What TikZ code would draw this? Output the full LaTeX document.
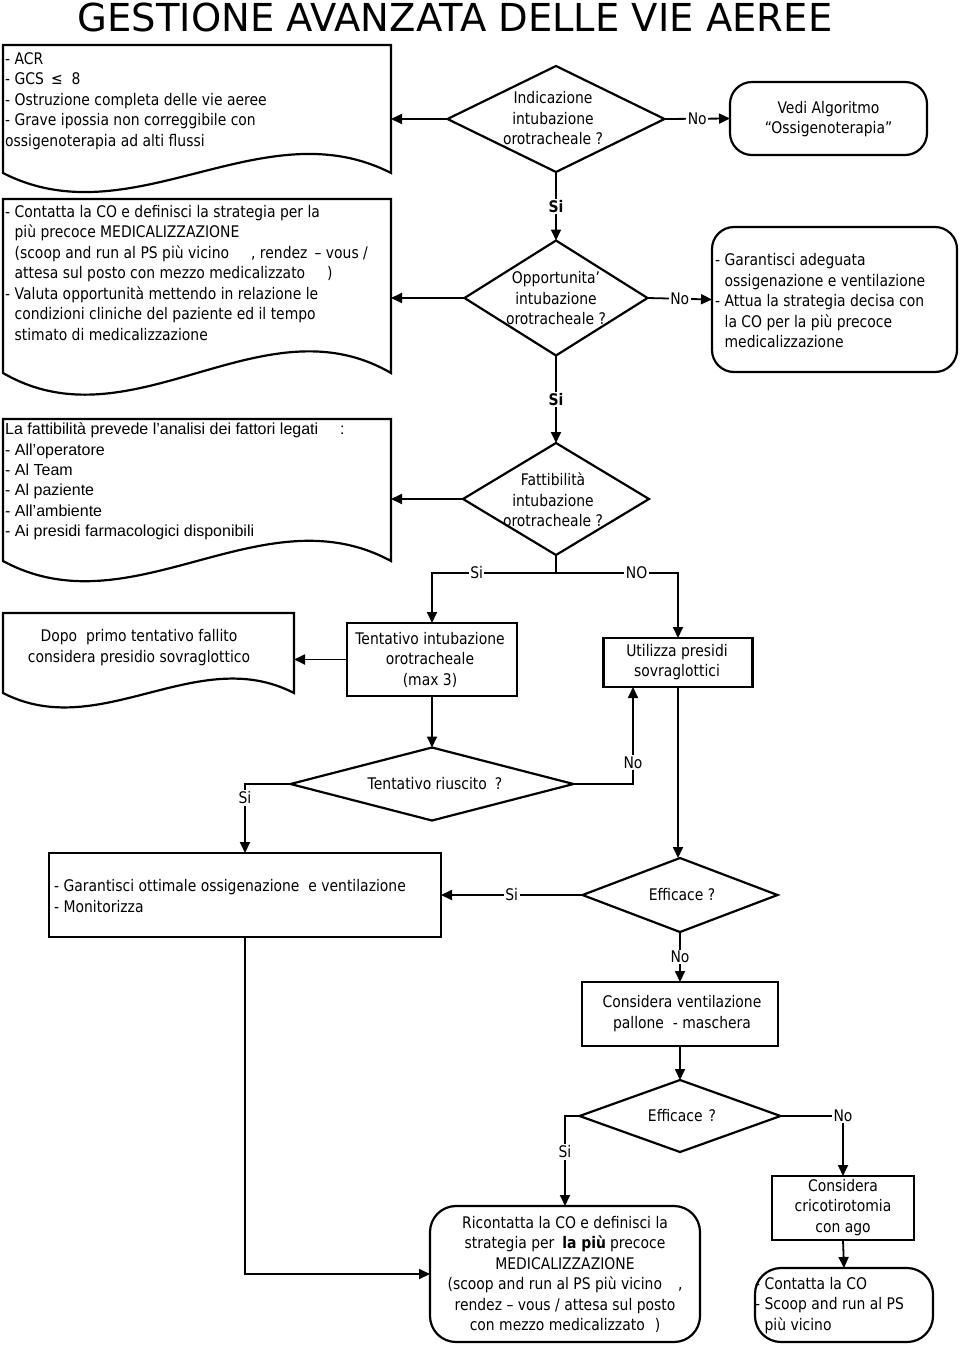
\documentclass[tikz,border=0pt]{standalone}
\usepackage{fontspec}
\setmainfont{DejaVu Sans}[FakeStretch=0.87]
\newfontfamily\arialf{Liberation Sans}
\newfontfamily\titlef{DejaVu Sans}
\usetikzlibrary{shapes.geometric,arrows.meta,calc}
\tikzset{
  ln/.style={line width=1.8pt},
  arr/.style={line width=1.8pt,-{Triangle[length=11pt,width=10pt]}},
  shp/.style={draw,line width=2.2pt,inner sep=0pt,outer sep=0pt},
  rect/.style={shp,rectangle},
  rbox/.style={shp,rectangle,rounded corners=22pt},
  dia/.style={shp,diamond},
  docb/.style={rectangle,inner sep=0pt,outer sep=0pt},
  doc/.style={line width=2.2pt},
  txt/.style={inner sep=0pt,font=\fontsize{16}{20.5}\selectfont},
  ctxt/.style={txt,align=center},
  ltxt/.style={txt,align=left,anchor=west},
  lbl/.style={fill=white,inner sep=1.5pt,font=\fontsize{16}{18}\selectfont},
  lblb/.style={fill=white,inner sep=1.5pt,font=\bfseries\fontsize{16}{18}\selectfont},
}
\begin{document}
\begin{tikzpicture}[x=1pt,y=-1pt]
\fill[white] (0,0) rectangle (960,1346);
\node[anchor=base,font=\titlef\fontsize{38.5}{40}\selectfont,inner sep=0pt] (title) at (455,32) {GESTIONE AVANZATA DELLE VIE AEREE};

% document shaped boxes
\node[docb,minimum width=388pt,minimum height=128pt] (b1) at (197,109) {};
\draw[doc] (b1.south west) -- (b1.north west) -- (b1.north east) -- (b1.south east) .. controls +(-129,-66) and +(129,66) .. (b1.south west) -- cycle;
\node[docb,minimum width=388pt,minimum height=174pt] (b2) at (197,286) {};
\draw[doc] (b2.south west) -- (b2.north west) -- (b2.north east) -- (b2.south east) .. controls +(-129,-75) and +(129,75) .. (b2.south west) -- cycle;
\node[docb,minimum width=388pt,minimum height=142pt] (b3) at (197,490) {};
\draw[doc] (b3.south west) -- (b3.north west) -- (b3.north east) -- (b3.south east) .. controls +(-129,-70) and +(129,70) .. (b3.south west) -- cycle;
\node[docb,minimum width=291pt,minimum height=80pt] (b4) at (148.5,653) {};
\draw[doc] (b4.south west) -- (b4.north west) -- (b4.north east) -- (b4.south east) .. controls +(-97,-50) and +(97,50) .. (b4.south west) -- cycle;

\node[ltxt] (b1t) at (5,101) {- ACR\\- GCS \,≤\ \ 8\\- Ostruzione completa delle vie aeree\\- Grave ipossia non correggibile con\\ossigenoterapia ad alti flussi};
\node[ltxt] (b2t) at (5,273) {- Contatta la CO e definisci la strategia per la\\\hphantom{- }più precoce MEDICALIZZAZIONE\\\hphantom{- }(scoop and run al PS più vicino\hspace{22pt}, rendez \,– vous /\\\hphantom{- }attesa sul posto con mezzo medicalizzato\hspace{22pt})\\- Valuta opportunità mettendo in relazione le\\\hphantom{- }condizioni cliniche del paziente ed il tempo\\\hphantom{- }stimato di medicalizzazione};
\node[ltxt,font=\arialf\fontsize{16}{20.4}\selectfont] (b3t) at (5,481.5) {La fattibilità prevede l’analisi dei fattori legati\hspace{22pt}:\\- All’operatore\\- Al Team\\- Al paziente\\- All’ambiente\\- Ai presidi farmacologici disponibili};
\node[ctxt] (b4t) at (139,647.5) {Dopo\ \ primo tentativo fallito\\considera presidio sovraglottico};

% diamonds
\node[dia,minimum width=217pt,minimum height=106pt] (d1) at (556,119) {};
\node[ctxt] (d1t) at (553,118.5) {Indicazione\\intubazione\\orotracheale ?};
\node[dia,minimum width=183pt,minimum height=115pt] (d2) at (556,298) {};
\node[ctxt] (d2t) at (556,298.5) {Opportunita’\\intubazione\\orotracheale ?};
\node[dia,minimum width=186pt,minimum height=112pt] (d3) at (556,499) {};
\node[ctxt] (d3t) at (553,500) {Fattibilità\\intubazione\\orotracheale ?};
\node[dia,minimum width=283pt,minimum height=73pt] (d4) at (432,784) {};
\node[ctxt] (d4t) at (435,784) {Tentativo riuscito\hspace{8pt}?};
\node[dia,minimum width=195pt,minimum height=74pt] (d5) at (680,895) {};
\node[ctxt] (d5t) at (682,895) {Efficace ?};
\node[dia,minimum width=201pt,minimum height=72pt] (d6) at (680,1116) {};
\node[ctxt] (d6t) at (682,1116) {Efficace\hspace{6pt}?};

% rounded boxes
\node[rbox,minimum width=197pt,minimum height=73pt] (vedi) at (828.5,118.5) {};
\node[ctxt] (vedit) at (828.5,119) {Vedi Algoritmo\\“Ossigenoterapia”};
\node[rbox,minimum width=245pt,minimum height=145pt] (gar) at (834.5,299.5) {};
\node[ltxt] (gart) at (715,301) {- Garantisci adeguata\\\hphantom{- }ossigenazione e ventilazione\\- Attua la strategia decisa con\\\hphantom{- }la CO per la più precoce\\\hphantom{- }medicalizzazione};
\node[rbox,minimum width=270pt,minimum height=136pt,rounded corners=26pt] (box7) at (565,1274) {};
\node[ctxt] (box7t) at (565,1274.5) {Ricontatta la CO e definisci la\\strategia per\hspace{8pt}\textbf{la più}\hspace{4pt}precoce\\MEDICALIZZAZIONE\\(scoop and run al PS più vicino\hspace{16pt},\\rendez – vous / attesa sul posto\\con mezzo medicalizzato\hspace{10pt})};
\node[rbox,minimum width=178pt,minimum height=74pt,rounded corners=26pt] (box9) at (844,1305) {};
\node[ltxt] (box9t) at (755,1305.5) {- Contatta la CO\\- Scoop and run al PS\\\hphantom{- }più vicino};

% rectangles
\node[rect,minimum width=170pt,minimum height=73pt] (tent) at (432,659.5) {};
\node[ctxt] (tentt) at (430,659.5) {Tentativo intubazione\\orotracheale\\(max 3)};
\node[rect,minimum width=149pt,minimum height=49pt] (utl) at (678,662.5) {};
\node[ctxt] (utlt) at (677,662) {Utilizza presidi\\sovraglottici};
\node[rect,minimum width=392pt,minimum height=84pt] (box5) at (245,895) {};
\node[ltxt] (box5t) at (54,896) {- Garantisci ottimale ossigenazione\ \ e ventilazione\\- Monitorizza};
\node[rect,minimum width=196pt,minimum height=64pt] (box6) at (680,1014) {};
\node[ctxt] (box6t) at (682,1013.5) {Considera ventilazione\\pallone\ \ - maschera};
\node[rect,minimum width=142pt,minimum height=64pt] (box8) at (843,1208) {};
\node[ctxt] (box8t) at (843,1207.5) {Considera\\cricotirotomia\\con ago};

% connectors
\draw[arr] (d1.west) -- (d1.west -| b1.east);
\draw[arr] (d1.east) -- node[lbl]{No} (vedi.west);
\draw[arr] (d1.south) -- node[lblb]{Si} (d2.north);
\draw[arr] (d2.west) -- (d2.west -| b2.east);
\draw[arr] (d2.east) -- node[lbl]{No} (gar.west);
\draw[arr] (d2.south) -- node[lblb]{Si} (d3.north);
\draw[arr] (d3.west) -- (d3.west -| b3.east);
\coordinate (j) at (556,573);
\draw[ln] (d3.south) -- (j);
\draw[arr] (j) -| node[lbl,pos=0.32]{Si} (tent.north);
\draw[arr] (j) -| node[lbl,pos=0.33]{NO} (utl.north);
\draw[arr] (tent.west) -- (tent.west -| b4.east);
\draw[arr] (tent.south) -- (tent.south |- d4.north);
\draw[arr] (d4.west) -| node[lbl,pos=0.6]{Si} (box5.north);
\draw[arr] (d4.east) -| node[lbl,pos=0.61]{No} ($(utl.south)+(-45,0)$);
\draw[arr] (utl.south) -- (utl.south |- d5.north);
\draw[arr] (d5.west) -- node[lbl]{Si} (d5.west -| box5.east);
\draw[arr] (d5.south) -- node[lbl]{No} (box6.north);
\draw[arr] (box6.south) -- (d6.north);
\draw[arr] (d6.west) -| node[lbl,pos=0.7]{Si} (box7.north);
\draw[arr] (d6.east) -| node[lbl,pos=0.5]{No} (box8.north);
\draw[arr] (box8.south) -- (box9.north);
\draw[arr] (box5.south) |- (box7.west);
\end{tikzpicture}
\end{document}
